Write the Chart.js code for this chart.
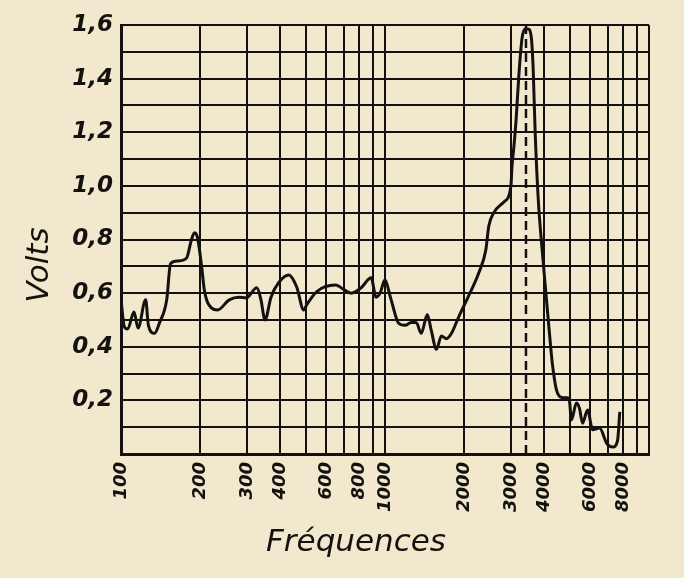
<!DOCTYPE html>
<html>
<head>
<meta charset="utf-8">
<script src="https://cdn.jsdelivr.net/npm/chart.js@4.4.0/dist/chart.umd.min.js"></script>
<style>
  html, body { margin: 0; background: #f2e8cd; }
  canvas { display: block; }
</style>
</head>
<body>
<canvas id="chart" width="684" height="578"></canvas>
<script>
/* Réponse en fréquence — Volts vs Fréquences (échelle log) */
const freqs = [100, 103, 106, 112, 116, 124, 127, 134, 140, 149, 154, 164, 177, 185, 190, 195, 202, 207, 220, 232,
  257, 280, 298, 327, 339, 351, 370, 396, 432, 463, 492, 505, 550, 649, 707, 745, 812, 886, 925, 958,
  1000, 1045, 1101, 1121, 1192, 1256, 1313, 1372, 1446, 1498, 1566, 1636, 1710, 1786, 1899, 2074, 2265, 2408, 2473, 2584,
  2821, 3000, 3026, 3080, 3134, 3218, 3304, 3393, 3483, 3576, 3640, 3705, 3806, 3939, 4081, 4188, 4301, 4458, 4580, 4750,
  4911, 4994, 5083, 5311, 5453, 5600, 5850, 6120, 6500, 6914, 7300, 7600, 7750];
const volts = [0.575, 0.474, 0.466, 0.53, 0.47, 0.575, 0.48, 0.45, 0.49, 0.575, 0.71, 0.72, 0.73, 0.80, 0.825, 0.806, 0.70, 0.61, 0.545, 0.537,
  0.575, 0.585, 0.582, 0.62, 0.575, 0.50, 0.585, 0.64, 0.668, 0.623, 0.537, 0.556, 0.605, 0.63, 0.61, 0.60, 0.62, 0.657, 0.585, 0.60,
  0.65, 0.59, 0.51, 0.49, 0.48, 0.49, 0.49, 0.45, 0.52, 0.46, 0.39, 0.44, 0.43, 0.45, 0.51, 0.59, 0.675, 0.76, 0.85, 0.90,
  0.94, 1.0, 1.07, 1.15, 1.24, 1.42, 1.55, 1.585, 1.585, 1.56, 1.44, 1.20, 0.95, 0.76, 0.586, 0.46, 0.34, 0.24, 0.215, 0.21,
  0.21, 0.20, 0.127, 0.19, 0.17, 0.115, 0.164, 0.09, 0.097, 0.04, 0.026, 0.05, 0.157];
const resonanceFreq = 3420;

const xGridValues = [100, 200, 300, 400, 500, 600, 700, 800, 900, 1000,
  2000, 3000, 4000, 5000, 6000, 7000, 8000, 9000, 10000];
const xLabelValues = [100, 200, 300, 400, 600, 800, 1000, 2000, 3000, 4000, 6000, 8000];
const yGridValues = [0, 0.1, 0.2, 0.3, 0.4, 0.5, 0.6, 0.7, 0.8, 0.9, 1.0, 1.1, 1.2, 1.3, 1.4, 1.5, 1.6];
const yLabelValues = [0.2, 0.4, 0.6, 0.8, 1.0, 1.2, 1.4, 1.6];

const INK = '#141210';
const PAPER = '#f2e8cd';
const FONT = '"DejaVu Sans", sans-serif';

const paper = {
  id: 'paper',
  beforeDraw(chart) {
    const { ctx, width, height } = chart;
    ctx.save();
    ctx.fillStyle = PAPER;
    ctx.fillRect(0, 0, width, height);
    ctx.restore();
  }
};

// axis titles placed by hand, like the printed figure
const titles = {
  id: 'titles',
  afterDraw(chart) {
    const ctx = chart.ctx;
    ctx.save();
    ctx.fillStyle = INK;
    ctx.font = 'italic 31px ' + FONT;
    ctx.textAlign = 'center';
    ctx.textBaseline = 'middle';
    ctx.fillText('Fréquences', 356, 543);
    ctx.translate(40, 265);
    ctx.rotate(-Math.PI / 2);
    ctx.fillText('Volts', 0, 0);
    ctx.restore();
  }
};

const commaFmt = v => v.toFixed(1).replace('.', ',');

new Chart(document.getElementById('chart').getContext('2d'), {
  type: 'line',
  data: {
    datasets: [
      {
        data: freqs.map((f, i) => ({ x: f, y: volts[i] })),
        borderColor: INK,
        borderWidth: 3,
        pointRadius: 0,
        cubicInterpolationMode: 'monotone',
        fill: false
      },
      {
        data: [{ x: resonanceFreq, y: 0 }, { x: resonanceFreq, y: 1.6 }],
        borderColor: INK,
        borderWidth: 2.5,
        borderDash: [9, 5],
        pointRadius: 0,
        fill: false
      }
    ]
  },
  options: {
    responsive: false,
    animation: false,
    layout: { padding: { left: 0, top: 25, right: 35, bottom: 0 } },
    plugins: { legend: { display: false }, tooltip: { enabled: false } },
    scales: {
      x: {
        type: 'logarithmic',
        min: 100, max: 10000,
        afterBuildTicks: s => { s.ticks = xGridValues.map(v => ({ value: v })); },
        afterFit: s => { s.height = 124; },
        grid: { color: INK, lineWidth: 2, drawTicks: false },
        border: { color: INK, width: 3 },
        ticks: {
          autoSkip: false, minRotation: 90, maxRotation: 90, padding: 8,
          color: INK, font: { family: FONT, size: 18, style: 'italic', weight: 'bold' },
          callback: v => xLabelValues.includes(v) ? String(v) : ''
        }
      },
      y: {
        min: 0, max: 1.6,
        afterBuildTicks: s => { s.ticks = yGridValues.map(v => ({ value: v })); },
        afterFit: s => { s.width = 121; },
        grid: { color: INK, lineWidth: 2, drawTicks: false },
        border: { color: INK, width: 3 },
        ticks: {
          autoSkip: false, padding: 8, color: INK,
          font: { family: FONT, size: 23, style: 'italic', weight: 'bold' },
          callback: v => yLabelValues.some(l => Math.abs(l - v) < 1e-6) ? commaFmt(v) : ''
        }
      }
    }
  },
  plugins: [paper, titles]
});
</script>
</body>
</html>
